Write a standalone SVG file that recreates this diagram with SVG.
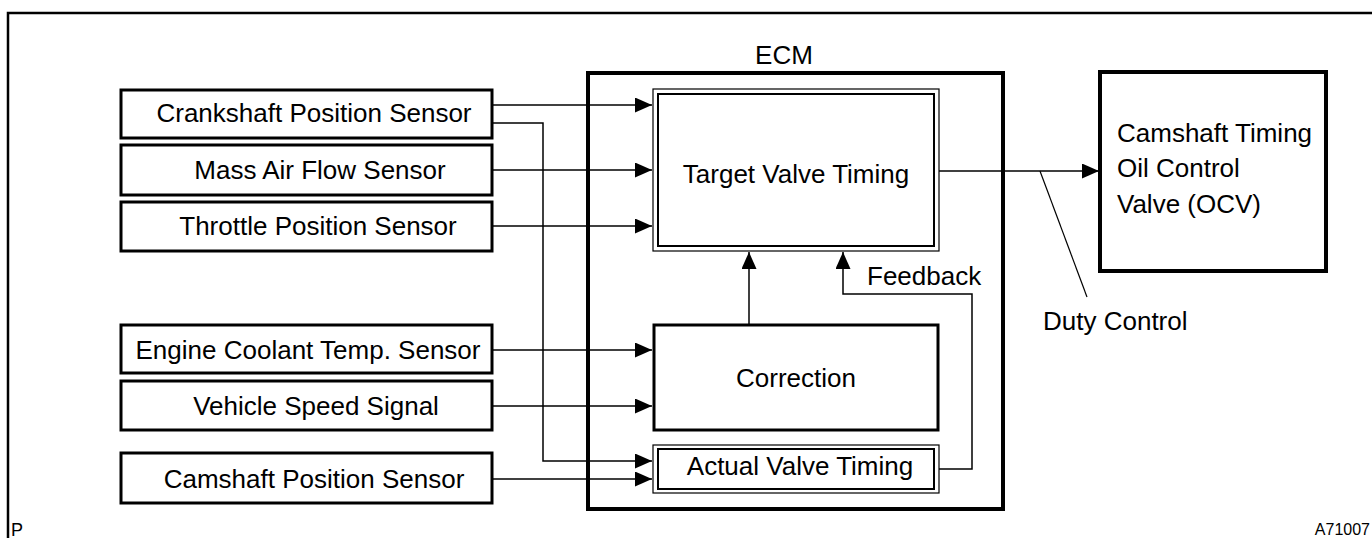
<svg xmlns="http://www.w3.org/2000/svg" width="1372" height="539" viewBox="0 0 1372 539">
<style>
text{font-family:"Liberation Sans",Arial,sans-serif;font-size:26px;fill:#000}
.box{fill:#fff;stroke:#000;stroke-width:3}
.dbl{fill:#fff;stroke:#000;stroke-width:1.2}
.conn{fill:none;stroke:#000;stroke-width:1.5}
.mid{text-anchor:middle}
</style>
<defs>
<marker id="ah" markerUnits="userSpaceOnUse" markerWidth="18" markerHeight="16" refX="17" refY="7.5" orient="auto">
<path d="M0,0 L17,7.5 L0,15 z" fill="#000"/>
</marker>
</defs>
<g id="frame">
<path d="M8,538 L8,13 L1372,13" fill="none" stroke="#000" stroke-width="2.5"/>
<text x="11" y="536" style="font-size:18px">P</text>
<text x="1370" y="535" style="font-size:16px;text-anchor:end">A71007</text>
</g>
<g id="ecm">
<rect x="588" y="73" width="415" height="436" fill="none" stroke="#000" stroke-width="4"/>
<text x="784" y="64" class="mid">ECM</text>
</g>
<g id="crankshaft">
<rect class="box" x="121" y="90" width="371" height="48"/>
<text x="314" y="122" class="mid">Crankshaft Position Sensor</text>
</g>
<g id="maf">
<rect class="box" x="121" y="145" width="371" height="50"/>
<text x="320" y="179" class="mid">Mass Air Flow Sensor</text>
</g>
<g id="throttle">
<rect class="box" x="121" y="202" width="371" height="49"/>
<text x="318" y="235" class="mid">Throttle Position Sensor</text>
</g>
<g id="coolant">
<rect class="box" x="121" y="325" width="371" height="48"/>
<text x="308" y="359" class="mid">Engine Coolant Temp. Sensor</text>
</g>
<g id="speed">
<rect class="box" x="121" y="381" width="371" height="49"/>
<text x="316" y="415" class="mid">Vehicle Speed Signal</text>
</g>
<g id="campos">
<rect class="box" x="121" y="453" width="371" height="50"/>
<text x="314" y="488" class="mid">Camshaft Position Sensor</text>
</g>
<g id="target">
<rect class="dbl" x="653" y="89" width="286" height="162"/>
<rect x="658" y="94" width="276" height="152" fill="none" stroke="#000" stroke-width="2"/>
<text x="796" y="183" class="mid">Target Valve Timing</text>
</g>
<g id="correction">
<rect class="box" x="654" y="325" width="284" height="105"/>
<text x="796" y="387" class="mid">Correction</text>
</g>
<g id="actual">
<rect class="dbl" x="653" y="445" width="286" height="48"/>
<rect x="658" y="449" width="276" height="40" fill="none" stroke="#000" stroke-width="2"/>
<text x="800" y="475" class="mid">Actual Valve Timing</text>
</g>
<g id="ocv">
<rect x="1100" y="72" width="226" height="199" fill="#fff" stroke="#000" stroke-width="4"/>
<text x="1117" y="142">Camshaft Timing</text>
<text x="1117" y="177">Oil Control</text>
<text x="1117" y="213">Valve (OCV)</text>
</g>
<g id="connectors">
<path class="conn" d="M492,105 L652,105" marker-end="url(#ah)"/>
<path class="conn" d="M492,170 L652,170" marker-end="url(#ah)"/>
<path class="conn" d="M492,226 L652,226" marker-end="url(#ah)"/>
<path class="conn" d="M492,123 L543,123 L543,461 L652,461" marker-end="url(#ah)"/>
<path class="conn" d="M492,350 L652,350" marker-end="url(#ah)"/>
<path class="conn" d="M492,406 L652,406" marker-end="url(#ah)"/>
<path class="conn" d="M492,479 L652,479" marker-end="url(#ah)"/>
<path class="conn" d="M749,325 L749,252" marker-end="url(#ah)"/>
<path class="conn" d="M939,469 L972,469 L972,294 L843,294 L843,252" marker-end="url(#ah)"/>
<path class="conn" d="M939,171 L1099,171" marker-end="url(#ah)"/>
<path d="M1040,171 L1087,297" fill="none" stroke="#000" stroke-width="1.2"/>
<text x="867" y="285">Feedback</text>
<text x="1043" y="330">Duty Control</text>
</g>
</svg>
